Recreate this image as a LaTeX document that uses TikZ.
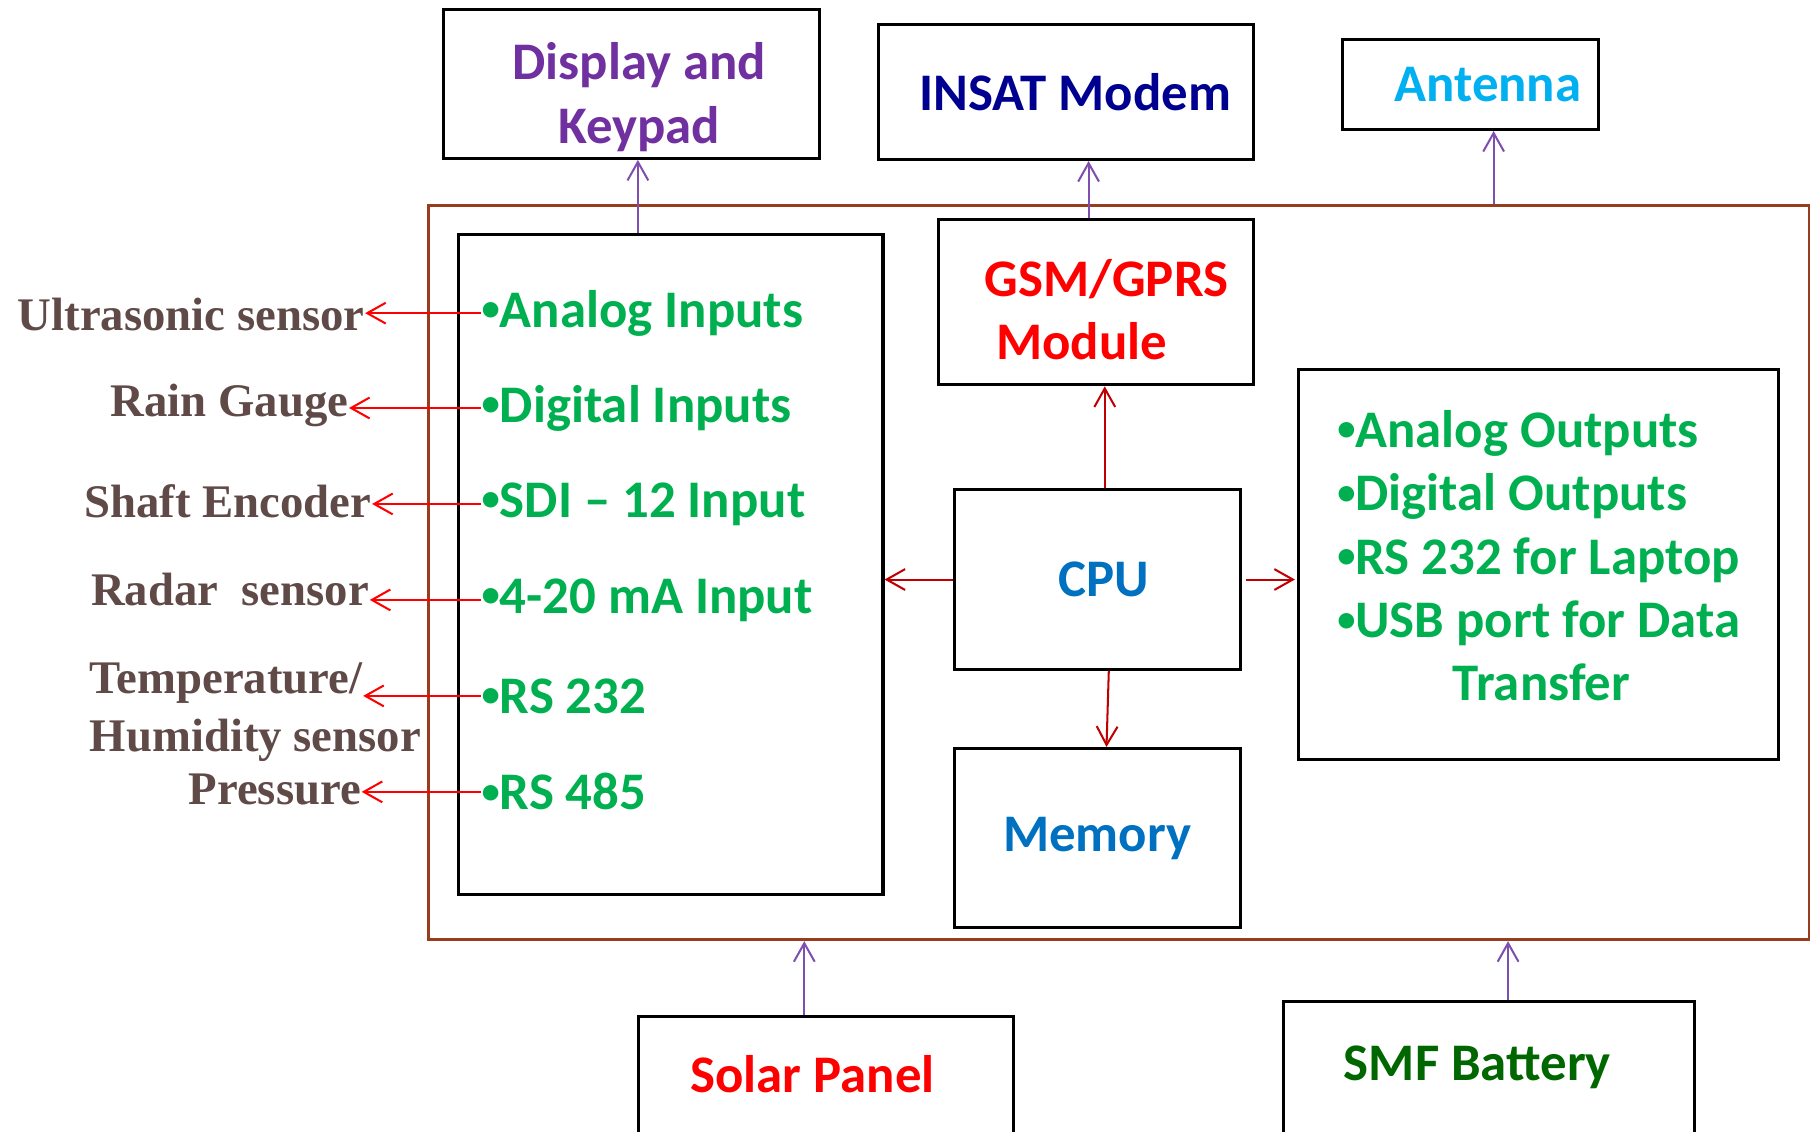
\documentclass[tikz,border=0pt]{standalone}
\usepackage{fontspec}
\setmainfont{Carlito}
\newfontfamily\sensorfont{Liberation Serif}
\usepackage{xcolor}
\usepackage{tikz}
\usetikzlibrary{arrows.meta, positioning}

\definecolor{boardbrown}{HTML}{983C1E}
\definecolor{dispurple}{HTML}{7030A0}
\definecolor{linkpurple}{HTML}{7F4FAF}
\definecolor{insatblue}{HTML}{000090}
\definecolor{antblue}{HTML}{00B0F0}
\definecolor{cpublue}{HTML}{0070C0}
\definecolor{iogreen}{HTML}{00B050}
\definecolor{batgreen}{HTML}{006600}
\definecolor{sensorbrown}{HTML}{604A48}
\definecolor{cpured}{HTML}{C00000}

% small bullet as in the slide
\newcommand{\bul}{\raisebox{1.6pt}{\fontsize{9}{9}\selectfont •}}

\begin{document}
\begin{tikzpicture}[
    x=0.01cm, y=-0.01cm,
    >={Straight Barb[length=1.6mm, width=1.8mm]},
    box/.style={rectangle, draw, line width=0.75pt, inner sep=0pt, align=center, font=\fontsize{13}{15.6}\selectfont\bfseries},
    boxtext/.style={inner sep=0pt, font=\fontsize{13}{15.6}\selectfont\bfseries},
    board/.style={rectangle, draw=boardbrown, line width=0.7pt, inner sep=0pt},
    inputline/.style={inner sep=0pt, anchor=west, text=iogreen, font=\fontsize{13}{15.6}\selectfont\bfseries},
    sensor/.style={inner sep=0pt, text=sensorbrown, font=\sensorfont\fontsize{11.5}{14.2}\selectfont\bfseries},
    redline/.style={->, draw=red, line width=0.5pt},
    cpuline/.style={->, draw=cpured, line width=0.5pt},
    purpleline/.style={->, draw=linkpurple, line width=0.5pt}
]
\useasboundingbox (0,0) rectangle (1568,979);
\clip (0,0) rectangle (1568,979);

% Logger board
\node[board, minimum width=11.94cm, minimum height=6.35cm] (board) at (968,495.5) {};

% Top peripherals
\node[box, minimum width=3.25cm, minimum height=1.29cm] (disp) at (546.5,72.5) {};
\node[boxtext, align=center, text=dispurple] (disptext) at (553,84) {Display and\\Keypad};
\node[box, minimum width=3.25cm, minimum height=1.17cm, text=insatblue] (insat) at (922.5,79.5) {\hspace*{0.16cm}INSAT Modem};
\node[box, minimum width=2.21cm, minimum height=0.78cm, text=antblue] (ant) at (1272.5,73) {\hspace*{0.3cm}Antenna};

% Inputs
\node[box, minimum width=3.67cm, minimum height=5.71cm] (inbox) at (580.5,488.5) {};
\node[inputline] (ain) at (416,271) {\bul Analog Inputs};
\node[inputline, below=0.82cm of ain.west, anchor=west] (din) {\bul Digital Inputs};
\node[inputline, below=0.83cm of din.west, anchor=west] (sdi) {\bul SDI – 12 Input};
\node[inputline, below=0.83cm of sdi.west, anchor=west] (ma) {\bul 4-20 mA Input};
\node[inputline, below=0.83cm of ma.west, anchor=west] (rsa) {\bul RS 232};
\node[inputline, below=0.83cm of rsa.west, anchor=west] (rsb) {\bul RS 485};

% Sensors
\node[sensor, anchor=east] (ultra) at (316,272) {Ultrasonic sensor};
\node[sensor, anchor=east] (rain) at (302,351) {Rain Gauge};
\node[sensor, anchor=east] (shaft) at (322,434) {Shaft Encoder};
\node[sensor, anchor=east] (radar) at (320,510) {Radar\ \ sensor};
\node[sensor, anchor=west] (temp) at (77,591) {Temperature/};
\node[sensor, below=0.5cm of temp.west, anchor=west] (humid) {Humidity sensor};
\node[sensor, anchor=east] (press) at (313,683) {Pressure};

% Core
\node[box, minimum width=2.73cm, minimum height=1.43cm] (gsm) at (948.5,261.5) {};
\node[boxtext, align=left, text=red] (gsmtext) at (948.5,268) {\hspace*{0.18cm}GSM/GPRS\\\hspace*{0.28cm}Module};
\node[box, minimum width=2.47cm, minimum height=1.55cm, text=cpublue] (cpu) at (949.5,501.5) {\hspace*{0.12cm}CPU};
\node[box, minimum width=2.47cm, minimum height=1.55cm, below=0.66cm of cpu, text=cpublue] (mem) {Memory};
\node[box, minimum width=4.15cm, minimum height=3.37cm] (outbox) at (1331.5,488.5) {};
\node[boxtext, align=left, text=iogreen] (outtext) at (1331.5,481) {\bul Analog Outputs\\\bul Digital Outputs\\\bul RS 232 for Laptop\\\bul USB port for Data\\\hspace*{1cm}Transfer};

% Power
\node[box, anchor=north, minimum width=3.24cm, inner ysep=0.36cm, text height=0.3cm, text depth=1.3cm, text=red] (solar) at (715,878) {Solar Panel\hspace*{0.24cm}};
\node[box, anchor=north, minimum width=3.55cm, inner ysep=0.385cm, text height=0.3cm, text depth=1.3cm, text=batgreen] (smf) at (1288.5,865) {SMF Battery\hspace*{0.2cm}};

\coordinate (antfoot) at ([xshift=0.2cm]ant.south);
\coordinate (solartop) at ([xshift=-0.19cm]solar.north);
\coordinate (battop) at ([xshift=0.165cm]smf.north);

\draw[redline] (ain.west) -- (ain.west -| ultra.east);
\draw[redline] (din.west) -- (din.west -| rain.east);
\draw[redline] (sdi.west) -- (sdi.west -| shaft.east);
\draw[redline] (ma.west) -- (ma.west -| radar.east);
\draw[redline] (rsa.west) -- (rsa.west -| temp.east);
\draw[redline] (rsb.west) -- (rsb.west -| press.east);

\draw[purpleline] ([xshift=0.055cm]inbox.north -| disp.south) -- ([xshift=0.055cm]disp.south);
\draw[purpleline] ([xshift=-0.065cm]gsm.north) -- ([xshift=-0.065cm]gsm.north |- insat.south);
\draw[purpleline] (antfoot |- board.north) -- (antfoot);
\draw[purpleline] (solartop) -- (solartop |- board.south);
\draw[purpleline] (battop) -- (battop |- board.south);

\draw[cpuline] ([xshift=0.065cm]cpu.north) -- ([xshift=0.065cm]cpu.north |- gsm.south);
\draw[cpuline] (cpu.west) -- (cpu.west -| inbox.east);
\draw[cpuline, shorten <=0.04cm, shorten >=0.02cm] (cpu.east) -- (cpu.east -| outbox.west);
\draw[cpuline] ([xshift=0.1cm]cpu.south) -- ([xshift=0.08cm]mem.north);

\end{tikzpicture}
\end{document}
